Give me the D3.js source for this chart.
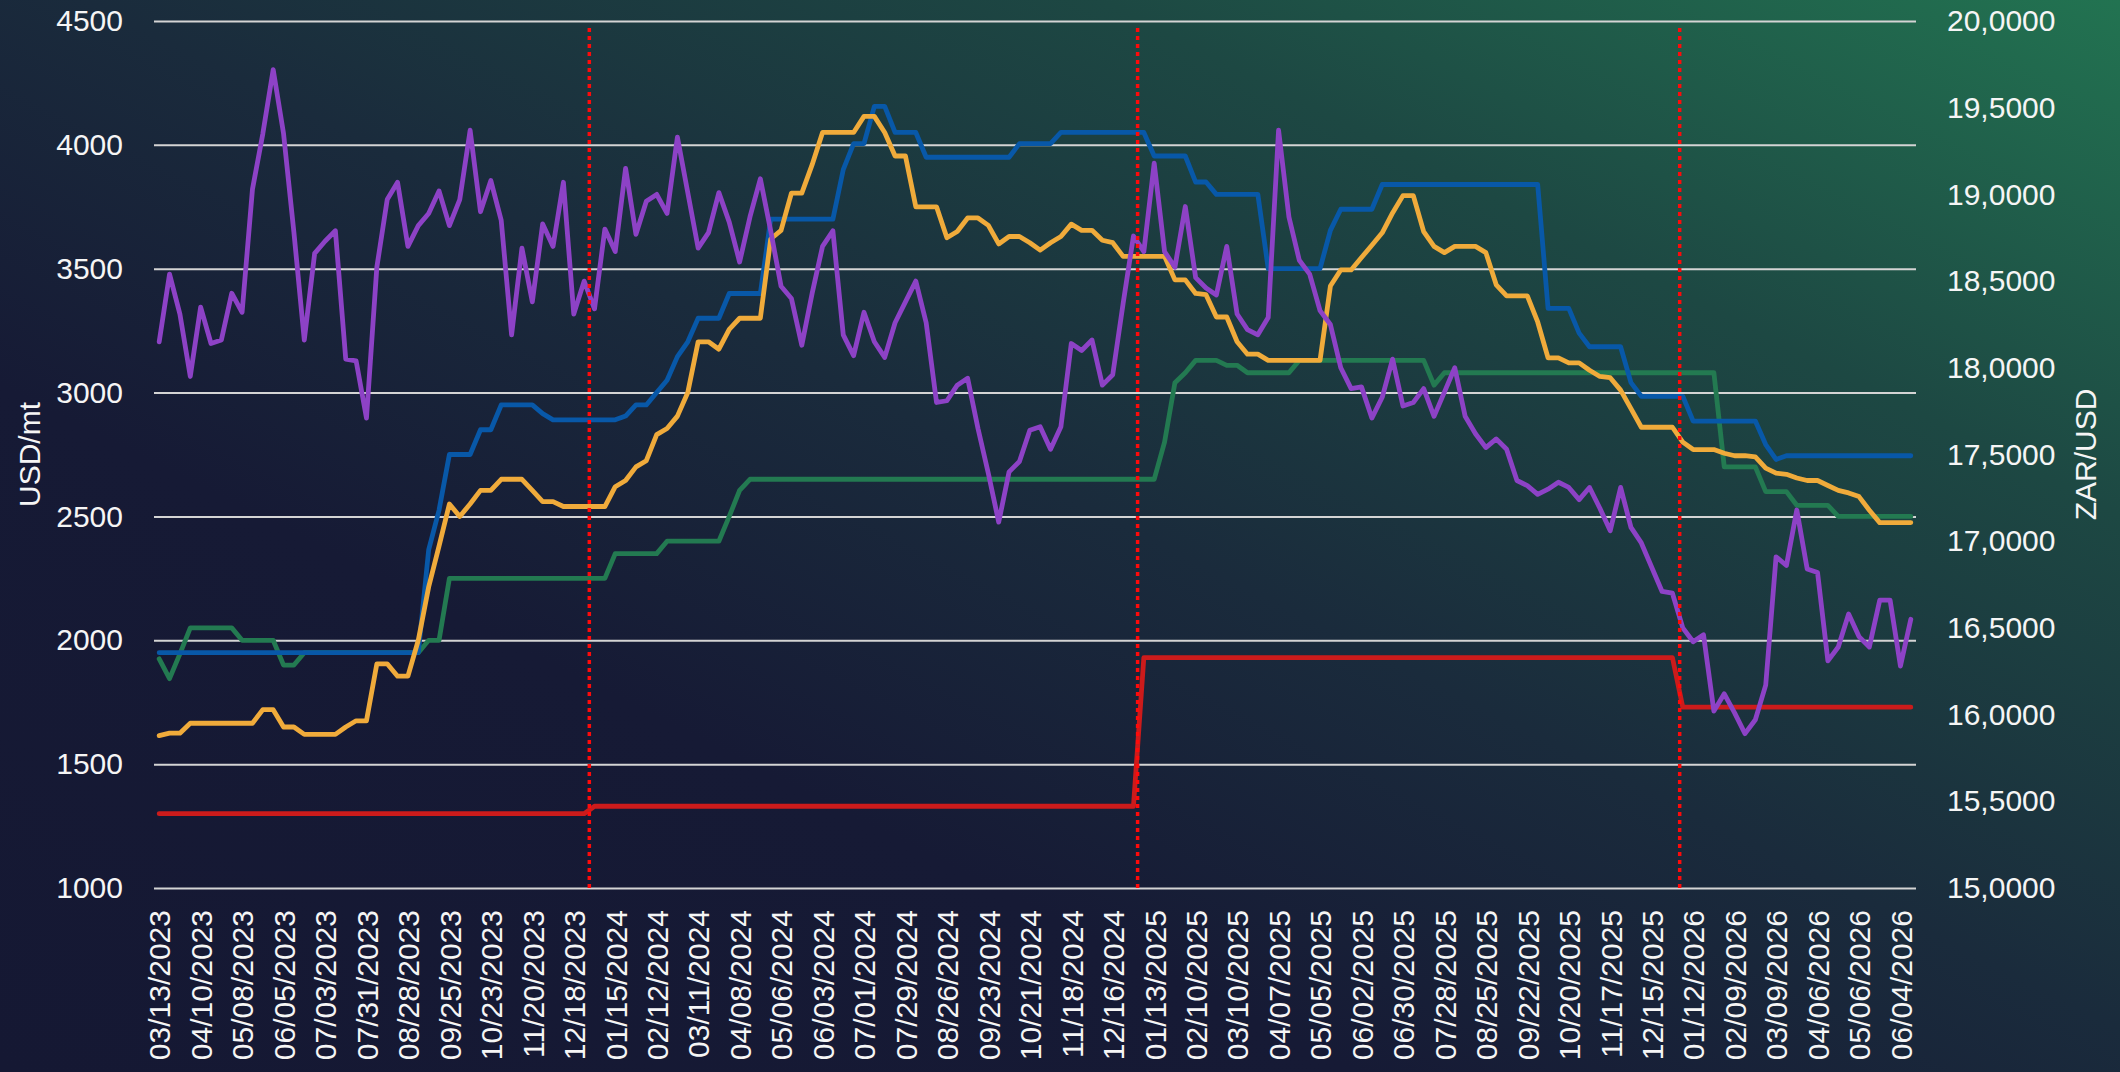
<!DOCTYPE html>
<html>
<head>
<meta charset="utf-8">
<script src="https://cdn.jsdelivr.net/npm/d3@7"></script>
<style>
  html, body { margin: 0; padding: 0; background: #161933; }
  svg { display: block; }
</style>
</head>
<body>
<script>
var outerWidth = 2120,
    outerHeight = 1072,
    plotLeft = 154,
    plotRight = 1916,
    plotTop = 21,
    plotBottom = 888;

// x tick labels, one every 4th weekly point
var tickLabels = [
  '03/13/2023','04/10/2023','05/08/2023','06/05/2023','07/03/2023','07/31/2023','08/28/2023','09/25/2023','10/23/2023','11/20/2023','12/18/2023',
  '01/15/2024','02/12/2024','03/11/2024','04/08/2024','05/06/2024','06/03/2024','07/01/2024','07/29/2024','08/26/2024','09/23/2024','10/21/2024','11/18/2024','12/16/2024',
  '01/13/2025','02/10/2025','03/10/2025','04/07/2025','05/05/2025','06/02/2025','06/30/2025','07/28/2025','08/25/2025','09/22/2025','10/20/2025','11/17/2025','12/15/2025',
  '01/12/2026','02/09/2026','03/09/2026','04/06/2026','05/06/2026','06/04/2026'
];

var leftTicks = [1000, 1500, 2000, 2500, 3000, 3500, 4000, 4500];
var rightTicks = [15, 15.5, 16, 16.5, 17, 17.5, 18, 18.5, 19, 19.5, 20];

// year change markers (position on the category axis)
var yearBreaks = [41.5, 94.4, 146.7];

// USD/mt
var red = [
  1300,1300,1300,1300,1300,1300,1300,1300,1300,1300,
  1300,1300,1300,1300,1300,1300,1300,1300,1300,1300,
  1300,1300,1300,1300,1300,1300,1300,1300,1300,1300,
  1300,1300,1300,1300,1300,1300,1300,1300,1300,1300,
  1300,1300,1330,1330,1330,1330,1330,1330,1330,1330,
  1330,1330,1330,1330,1330,1330,1330,1330,1330,1330,
  1330,1330,1330,1330,1330,1330,1330,1330,1330,1330,
  1330,1330,1330,1330,1330,1330,1330,1330,1330,1330,
  1330,1330,1330,1330,1330,1330,1330,1330,1330,1330,
  1330,1330,1330,1330,1330,1930,1930,1930,1930,1930,
  1930,1930,1930,1930,1930,1930,1930,1930,1930,1930,
  1930,1930,1930,1930,1930,1930,1930,1930,1930,1930,
  1930,1930,1930,1930,1930,1930,1930,1930,1930,1930,
  1930,1930,1930,1930,1930,1930,1930,1930,1930,1930,
  1930,1930,1930,1930,1930,1930,1930,1730,1730,1730,
  1730,1730,1730,1730,1730,1730,1730,1730,1730,1730,
  1730,1730,1730,1730,1730,1730,1730,1730,1730,1730
];

var blue = [
  1950,1950,1950,1950,1950,1950,1950,1950,1950,1950,
  1950,1950,1950,1950,1950,1950,1950,1950,1950,1950,
  1950,1950,1950,1950,1950,1950,2365,2525,2750,2750,
  2750,2850,2850,2950,2950,2950,2950,2915,2890,2890,
  2890,2890,2890,2890,2890,2905,2950,2950,3000,3050,
  3145,3205,3300,3300,3300,3400,3400,3400,3400,3700,
  3700,3700,3700,3700,3700,3700,3900,4005,4005,4155,
  4155,4050,4050,4050,3950,3950,3950,3950,3950,3950,
  3950,3950,3950,4005,4005,4005,4005,4050,4050,4050,
  4050,4050,4050,4050,4050,4050,3955,3955,3955,3955,
  3850,3850,3800,3800,3800,3800,3800,3500,3500,3500,
  3500,3500,3500,3655,3740,3740,3740,3740,3840,3840,
  3840,3840,3840,3840,3840,3840,3840,3840,3840,3840,
  3840,3840,3840,3840,3340,3340,3340,3240,3185,3185,
  3185,3185,3040,2985,2985,2985,2985,2985,2885,2885,
  2885,2885,2885,2885,2885,2790,2730,2745,2745,2745,
  2745,2745,2745,2745,2745,2745,2745,2745,2745,2745
];

var orange = [
  1615,1625,1625,1665,1665,1665,1665,1665,1665,1665,
  1720,1720,1650,1650,1620,1620,1620,1620,1650,1675,
  1675,1905,1905,1855,1855,2000,2215,2380,2550,2500,
  2550,2605,2605,2650,2650,2650,2605,2560,2560,2540,
  2540,2540,2540,2540,2620,2645,2700,2725,2830,2855,
  2905,3000,3205,3205,3175,3255,3300,3300,3300,3620,
  3655,3805,3805,3920,4050,4050,4050,4050,4115,4115,
  4050,3955,3955,3750,3750,3750,3625,3650,3705,3705,
  3675,3600,3630,3630,3605,3575,3605,3630,3680,3655,
  3655,3615,3605,3550,3550,3550,3550,3550,3455,3455,
  3400,3395,3305,3305,3205,3155,3155,3130,3130,3130,
  3130,3130,3130,3430,3495,3495,3545,3595,3645,3725,
  3795,3795,3650,3590,3565,3590,3590,3590,3565,3435,
  3390,3390,3390,3285,3140,3140,3120,3120,3090,3065,
  3060,3010,2935,2860,2860,2860,2860,2800,2770,2770,
  2770,2755,2745,2745,2740,2695,2675,2670,2655,2645,
  2645,2625,2605,2595,2580,2525,2475,2475,2475,2475
];

var green = [
  1925,1845,1945,2050,2050,2050,2050,2050,2000,2000,
  2000,2000,1900,1900,1950,1950,1950,1950,1950,1950,
  1950,1950,1950,1950,1950,1950,2000,2000,2250,2250,
  2250,2250,2250,2250,2250,2250,2250,2250,2250,2250,
  2250,2250,2250,2250,2350,2350,2350,2350,2350,2400,
  2400,2400,2400,2400,2400,2500,2605,2650,2650,2650,
  2650,2650,2650,2650,2650,2650,2650,2650,2650,2650,
  2650,2650,2650,2650,2650,2650,2650,2650,2650,2650,
  2650,2650,2650,2650,2650,2650,2650,2650,2650,2650,
  2650,2650,2650,2650,2650,2650,2650,2800,3040,3080,
  3130,3130,3130,3110,3110,3080,3080,3080,3080,3080,
  3130,3130,3130,3130,3130,3130,3130,3130,3130,3130,
  3130,3130,3130,3030,3080,3080,3080,3080,3080,3080,
  3080,3080,3080,3080,3080,3080,3080,3080,3080,3080,
  3080,3080,3080,3080,3080,3080,3080,3080,3080,3080,
  3080,2700,2700,2700,2700,2600,2600,2600,2545,2545,
  2545,2545,2500,2500,2500,2500,2500,2500,2500,2500
];

// ZAR/USD
var purple = [
  18.15,18.54,18.31,17.95,18.35,18.14,18.16,18.43,18.32,19.03,
  19.35,19.72,19.35,18.78,18.16,18.66,18.73,18.79,18.05,18.04,
  17.71,18.58,18.97,19.07,18.70,18.82,18.89,19.02,18.82,18.97,
  19.37,18.90,19.08,18.85,18.19,18.69,18.38,18.83,18.70,19.07,
  18.31,18.50,18.34,18.80,18.67,19.15,18.77,18.96,19.00,18.89,
  19.33,19.01,18.69,18.78,19.01,18.84,18.61,18.87,19.09,18.79,
  18.47,18.40,18.13,18.43,18.70,18.79,18.19,18.07,18.32,18.15,
  18.06,18.26,18.38,18.50,18.26,17.80,17.81,17.90,17.94,17.65,
  17.39,17.11,17.40,17.46,17.64,17.66,17.53,17.66,18.14,18.10,
  18.16,17.90,17.96,18.37,18.76,18.67,19.18,18.67,18.58,18.93,
  18.52,18.46,18.42,18.70,18.31,18.22,18.19,18.29,19.37,18.87,
  18.62,18.54,18.33,18.25,18.00,17.88,17.89,17.71,17.83,18.05,
  17.78,17.80,17.88,17.72,17.86,18.00,17.72,17.62,17.54,17.59,
  17.53,17.35,17.32,17.27,17.30,17.34,17.31,17.24,17.31,17.19,
  17.06,17.31,17.08,16.99,16.85,16.71,16.70,16.50,16.42,16.46,
  16.02,16.12,16.01,15.89,15.97,16.17,16.91,16.86,17.18,16.84,
  16.82,16.31,16.39,16.58,16.45,16.39,16.66,16.66,16.28,16.55
];

var n = blue.length;
var fontFamily = '"Liberation Sans", Arial, Helvetica, sans-serif';

var svg = d3.select('body').append('svg')
    .attr('width', outerWidth)
    .attr('height', outerHeight);

// diagonal background, bottom-left navy to top-right green
var grad = svg.append('defs').append('linearGradient')
    .attr('id', 'bg')
    .attr('x1', 0).attr('y1', 1)
    .attr('x2', 1).attr('y2', 0);
grad.append('stop').attr('offset', '0%').attr('stop-color', '#151833');
grad.append('stop').attr('offset', '32%').attr('stop-color', '#161a35');
grad.append('stop').attr('offset', '52%').attr('stop-color', '#1a2b3c');
grad.append('stop').attr('offset', '76%').attr('stop-color', '#1d4843');
grad.append('stop').attr('offset', '100%').attr('stop-color', '#227351');

svg.append('rect')
    .attr('width', outerWidth)
    .attr('height', outerHeight)
    .attr('fill', 'url(#bg)');

var x = d3.scaleLinear().domain([-0.5, n - 0.5]).range([plotLeft, plotRight]);
var yL = d3.scaleLinear().domain([1000, 4500]).range([plotBottom, plotTop]);
var yR = d3.scaleLinear().domain([15, 20]).range([plotBottom, plotTop]);

// left axis + gridlines
var gLeft = svg.append('g')
    .attr('transform', 'translate(' + plotLeft + ',0)')
    .call(d3.axisLeft(yL)
        .tickValues(leftTicks)
        .tickFormat(d3.format('d'))
        .tickSizeInner(-(plotRight - plotLeft))
        .tickSizeOuter(0)
        .tickPadding(31));
gLeft.select('.domain').remove();
gLeft.selectAll('line').attr('stroke', '#d4d4d4').attr('stroke-width', 2);

// right axis
var fmtR = d3.format('.4f');
var gRight = svg.append('g')
    .attr('transform', 'translate(' + plotRight + ',0)')
    .call(d3.axisRight(yR)
        .tickValues(rightTicks)
        .tickFormat(d => fmtR(d).replace('.', ','))
        .tickSize(0)
        .tickPadding(31));
gRight.select('.domain').remove();

// bottom axis
var gBottom = svg.append('g')
    .attr('transform', 'translate(0,' + plotBottom + ')')
    .call(d3.axisBottom(x)
        .tickValues(d3.range(0, n, 4))
        .tickFormat((d, i) => tickLabels[i])
        .tickSize(0));
gBottom.select('.domain').remove();
gBottom.selectAll('text')
    .attr('transform', 'rotate(-90)')
    .attr('x', -22)
    .attr('y', 0)
    .attr('dy', '0.36em')
    .attr('text-anchor', 'end');

svg.selectAll('.tick text')
    .attr('fill', '#f5f5f5')
    .attr('font-size', 30)
    .attr('font-family', fontFamily);

// axis titles
svg.append('text')
    .attr('transform', 'translate(29,' + (plotTop + plotBottom) / 2 + ') rotate(-90)')
    .attr('text-anchor', 'middle')
    .attr('dy', '0.36em')
    .attr('fill', '#f5f5f5')
    .attr('font-size', 30)
    .attr('font-family', fontFamily)
    .text('USD/mt');

svg.append('text')
    .attr('transform', 'translate(2085,' + (plotTop + plotBottom) / 2 + ') rotate(-90)')
    .attr('text-anchor', 'middle')
    .attr('dy', '0.36em')
    .attr('fill', '#f5f5f5')
    .attr('font-size', 30)
    .attr('font-family', fontFamily)
    .text('ZAR/USD');

// series
var lineL = d3.line().x((d, i) => x(i)).y(d => yL(d));
var lineR = d3.line().x((d, i) => x(i)).y(d => yR(d));

var series = [
  {data: green, color: '#237a51', line: lineL},
  {data: blue, color: '#0858a8', line: lineL},
  {data: orange, color: '#f0ab3b', line: lineL},
  {data: red, color: '#cc1b1b', line: lineL},
  {data: purple, color: '#8d42c6', line: lineR}
];

svg.append('g').selectAll('path')
    .data(series)
    .enter()
        .append('path')
        .attr('d', s => s.line(s.data))
        .attr('fill', 'none')
        .attr('stroke', s => s.color)
        .attr('stroke-width', 4.8)
        .attr('stroke-linejoin', 'round')
        .attr('stroke-linecap', 'round');

// dotted year markers
svg.append('g').selectAll('line')
    .data(yearBreaks)
    .enter()
        .append('line')
        .attr('x1', d => x(d))
        .attr('x2', d => x(d))
        .attr('y1', 28)
        .attr('y2', plotBottom)
        .attr('stroke', '#ff0a0a')
        .attr('stroke-width', 3.5)
        .attr('stroke-dasharray', '4 4');
</script>
</body>
</html>
